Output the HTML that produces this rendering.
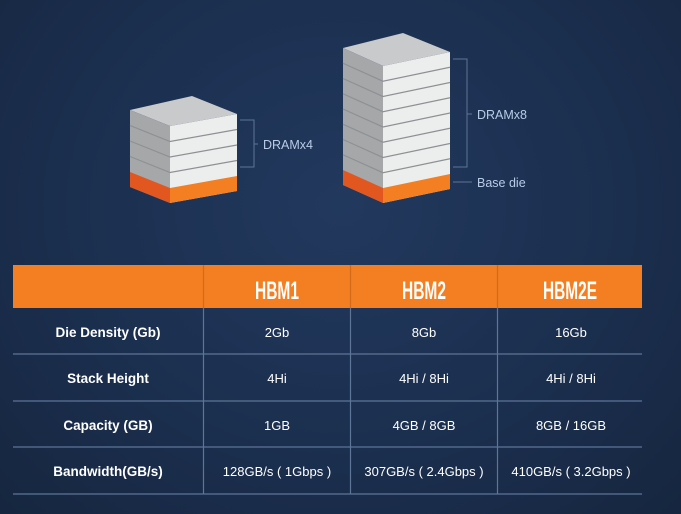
<!DOCTYPE html>
<html><head><meta charset="utf-8"><style>
html,body{margin:0;padding:0;}
body{width:681px;height:514px;overflow:hidden;background:radial-gradient(ellipse at 50% 40%,#22395e 0%,#1b2f4f 55%,#16263f 100%);font-family:"Liberation Sans",sans-serif;}
svg{position:absolute;left:0;top:0;}
</style></head><body>
<svg width="681" height="514" viewBox="0 0 681 514" xmlns="http://www.w3.org/2000/svg">
<g>
<polygon points="130,110 192,96 237,114 170,126" fill="#c8cacb"/>
<polygon points="130,110 170,126 170,203 130,187" fill="#a5a7a9"/>
<polygon points="170,126 237,114 237,191 170,203" fill="#eceeee"/>
<polygon points="130,172 170,188 170,203 130,187" fill="#e2561f"/>
<polygon points="170,188 237,176 237,191 170,203" fill="#f37f22"/>
<g stroke="#8e9193" stroke-width="1.2" fill="none">
<polyline points="130,125.5 170,141.5 237,129.5"/>
<polyline points="130,141 170,157 237,145"/>
<polyline points="130,156.5 170,172.5 237,160.5"/>
</g>
<g stroke="#5d7597" stroke-width="1" fill="none">
<polyline points="240,120 254,120 254,167 240,167"/>
<line x1="254" y1="144" x2="258" y2="144"/>
</g>
<text x="263" y="149" fill="#b8cce6" font-size="12.5">DRAMx4</text>
</g>
<g>
<polygon points="343,48 403,33 450,52 383,66" fill="#c8cacb"/>
<polygon points="343,48 383,66 383,203 343,185" fill="#a5a7a9"/>
<polygon points="383,66 450,52 450,189 383,203" fill="#eceeee"/>
<polygon points="343,170 383,188 383,203 343,185" fill="#e2561f"/>
<polygon points="383,188 450,174 450,189 383,203" fill="#f37f22"/>
<g stroke="#8e9193" stroke-width="1.2" fill="none">
<polyline points="343,63.25 383,81.25 450,67.25"/>
<polyline points="343,78.5 383,96.5 450,82.5"/>
<polyline points="343,93.75 383,111.75 450,97.75"/>
<polyline points="343,109 383,127 450,113"/>
<polyline points="343,124.25 383,142.25 450,128.25"/>
<polyline points="343,139.5 383,157.5 450,143.5"/>
<polyline points="343,154.75 383,172.75 450,158.75"/>
</g>
<g stroke="#5d7597" stroke-width="1" fill="none">
<polyline points="453,59 467,59 467,167 453,167"/>
<line x1="467" y1="114" x2="472" y2="114"/>
<line x1="453" y1="182" x2="472" y2="182"/>
</g>
<text x="477" y="119" fill="#b8cce6" font-size="12.5">DRAMx8</text>
<text x="477" y="187" fill="#b8cce6" font-size="12.5">Base die</text>
</g>
<rect x="13" y="265" width="629" height="43" fill="#f37f22"/>
<g stroke="#5d7597" stroke-width="1.2">
<line x1="13" y1="354" x2="642" y2="354"/>
<line x1="13" y1="401" x2="642" y2="401"/>
<line x1="13" y1="447" x2="642" y2="447"/>
<line x1="13" y1="494" x2="642" y2="494"/>
<line x1="203.5" y1="308" x2="203.5" y2="494"/>
<line x1="350.5" y1="308" x2="350.5" y2="494"/>
<line x1="497.5" y1="308" x2="497.5" y2="494"/>
</g>
<g stroke="#d26a1c" stroke-width="1.2">
<line x1="203.5" y1="265" x2="203.5" y2="308"/>
<line x1="350.5" y1="265" x2="350.5" y2="308"/>
<line x1="497.5" y1="265" x2="497.5" y2="308"/>
</g>
<g fill="#ffffff" font-size="25" font-weight="bold" text-anchor="middle" style="font-family:'Liberation Sans Narrow','Liberation Sans',sans-serif">
<text x="277" y="299" textLength="44" lengthAdjust="spacingAndGlyphs">HBM1</text>
<text x="424" y="299" textLength="44" lengthAdjust="spacingAndGlyphs">HBM2</text>
<text x="570" y="299" textLength="54" lengthAdjust="spacingAndGlyphs">HBM2E</text>
</g>
<g fill="#ffffff" font-size="13.5" font-weight="bold" text-anchor="middle">
<text x="108" y="337">Die Density (Gb)</text>
<text x="108" y="383">Stack Height</text>
<text x="108" y="430">Capacity (GB)</text>
<text x="108" y="476">Bandwidth(GB/s)</text>
</g>
<g fill="#ffffff" font-size="13" text-anchor="middle">
<text x="277" y="337">2Gb</text>
<text x="424" y="337">8Gb</text>
<text x="571" y="337">16Gb</text>
<text x="277" y="383">4Hi</text>
<text x="424" y="383">4Hi / 8Hi</text>
<text x="571" y="383">4Hi / 8Hi</text>
<text x="277" y="430">1GB</text>
<text x="424" y="430">4GB / 8GB</text>
<text x="571" y="430">8GB / 16GB</text>
<text x="277" y="476">128GB/s ( 1Gbps )</text>
<text x="424" y="476">307GB/s ( 2.4Gbps )</text>
<text x="571" y="476">410GB/s ( 3.2Gbps )</text>
</g>
</svg>
</body></html>
